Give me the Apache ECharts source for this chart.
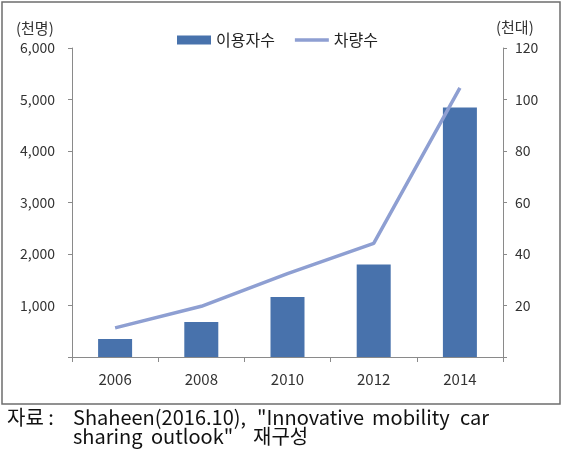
<!DOCTYPE html>
<html>
<head>
<meta charset="utf-8">
<script src="https://cdn.jsdelivr.net/npm/echarts@6/dist/echarts.min.js"></script>
<style>
html, body { margin: 0; padding: 0; background: #fff; }
#main { width: 563px; height: 459px; }
</style>
</head>
<body>
<div id="main"></div>
<script>
// data
var years = ['2006', '2008', '2010', '2012', '2014'];
var users = [350, 680, 1165, 1795, 4845];      // 이용자수 (천명)
var cars = [11.3, 19.7, 32.4, 44.1, 104.5];    // 차량수 (천대)
var leftTicks = [0, 6000, 1000];
var rightTicks = [0, 120, 20];

var FONT = "'Noto Sans CJK KR', 'Malgun Gothic', sans-serif";

var Chart = function() {
	var fmtLeft = function(v) {
		if (v === 0) return '';
		return v.toString().replace(/\B(?=(\d{3})+(?!\d))/g, ',');
	};
	var fmtRight = function(v) {
		return v === 0 ? '' : String(v);
	};
	var axisLine = { lineStyle: { color: '#8a8a8a', width: 1 } };
	// caption words, spread out like the justified source text
	var word = function(t, x, y) {
		return { type: 'text', left: x, top: y, silent: true,
			style: { text: t, font: '20px ' + FONT, fill: '#111' } };
	};

	var option = {
		animation: false,
		textStyle: { fontFamily: FONT },
		grid: { left: 72, right: 60, top: 48, bottom: 102 },
		legend: {
			left: 172,
			top: 27,
			itemWidth: 34,
			itemHeight: 9,
			itemGap: 20,
			textStyle: { fontSize: 16, color: '#222', fontFamily: FONT },
			data: [
				{ name: '이용자수', icon: 'rect' },
				{ name: '차량수', icon: 'path://M0,2.8h34v3.4h-34z M0,0h0.01v0.01h-0.01z M0,9h0.01v0.01h-0.01z' }
			]
		},
		xAxis: {
			type: 'category',
			data: years,
			axisLine: axisLine,
			axisTick: { show: true, length: 5, lineStyle: { color: '#8a8a8a' } },
			axisLabel: { color: '#333', fontSize: 15, margin: 15, fontFamily: FONT }
		},
		yAxis: [{
			type: 'value',
			min: leftTicks[0], max: leftTicks[1], interval: leftTicks[2],
			axisLine: { show: true, lineStyle: { color: '#8a8a8a' } },
			axisTick: { show: true, length: 4, lineStyle: { color: '#8a8a8a' } },
			axisLabel: { color: '#333', fontSize: 14, margin: 17, formatter: fmtLeft, fontFamily: FONT },
			splitLine: { show: false }
		}, {
			type: 'value',
			position: 'right',
			min: rightTicks[0], max: rightTicks[1], interval: rightTicks[2],
			axisLine: { show: true, lineStyle: { color: '#8a8a8a' } },
			axisTick: { show: true, length: 4, lineStyle: { color: '#8a8a8a' } },
			axisLabel: { color: '#333', fontSize: 14, margin: 12, formatter: fmtRight, fontFamily: FONT },
			splitLine: { show: false }
		}],
		series: [{
			name: '이용자수',
			type: 'bar',
			data: users,
			barWidth: 34,
			itemStyle: { color: '#4872ac' }
		}, {
			name: '차량수',
			type: 'line',
			yAxisIndex: 1,
			data: cars,
			symbol: 'none',
			lineStyle: { color: '#8e9fd2', width: 3.5 },
			itemStyle: { color: '#8e9fd2' }
		}],
		graphic: [{
			type: 'rect',
			shape: { x: 2, y: 2, width: 558, height: 402 },
			style: { fill: 'none', stroke: '#6e6e6e', lineWidth: 1.5 },
			silent: true
		}, {
			type: 'text', left: 16, top: 21,
			style: { text: '(천명)', font: '15px ' + FONT, fill: '#333' }
		}, {
			type: 'text', left: 496, top: 20,
			style: { text: '(천대)', font: '15px ' + FONT, fill: '#333' }
		},
			word('자료 :', 7, 407),
			word('Shaheen(2016.10),', 73, 407),
			word('"Innovative', 257, 407),
			word('mobility', 372, 407),
			word('car', 460, 407),
			word('sharing', 73, 426),
			word('outlook"', 151, 426),
			word('재구성', 253, 426)
		]
	};
	return {
		init: function() {
			var chart = echarts.init(document.getElementById('main'));
			chart.setOption(option);
		}
	};
}();
Chart.init();
</script>
</body>
</html>
